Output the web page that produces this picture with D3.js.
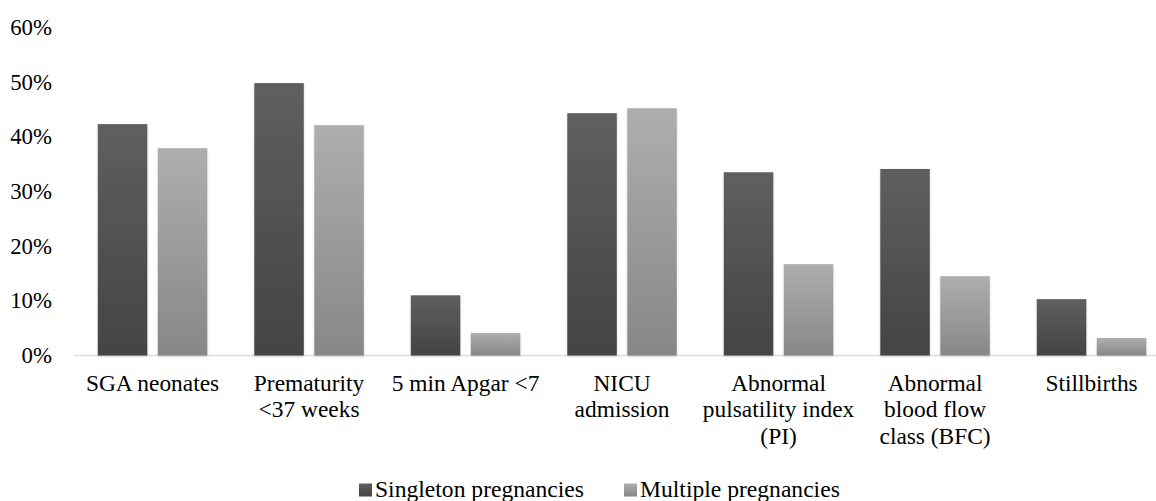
<!DOCTYPE html>
<html>
<head>
<meta charset="utf-8">
<script src="https://cdn.jsdelivr.net/npm/d3@7"></script>
</head>
<body style="margin:0">
<svg></svg>
<script>
const categories = [
  ["SGA neonates"],
  ["Prematurity", "<37 weeks"],
  ["5 min Apgar <7"],
  ["NICU", "admission"],
  ["Abnormal", "pulsatility index", "(PI)"],
  ["Abnormal", "blood flow", "class (BFC)"],
  ["Stillbirths"]
];
const singleton = [0.423, 0.498, 0.110, 0.443, 0.335, 0.341, 0.103];
const multiple = [0.379, 0.421, 0.041, 0.452, 0.167, 0.145, 0.032];
const seriesNames = ["Singleton pregnancies", "Multiple pregnancies"];
const yTicks = [0, 0.1, 0.2, 0.3, 0.4, 0.5, 0.6];

const width = 1156, height = 501;
const fontFam = "Liberation Serif";

const svg = d3.select("svg")
  .attr("width", width)
  .attr("height", height);

// gradients for the bars
const defs = svg.append("defs");
const grads = [["gSingle", "#5f5f5f", "#444444"], ["gMulti", "#aeaeae", "#878787"]];
grads.forEach(g => {
  const lg = defs.append("linearGradient")
    .attr("id", g[0]).attr("x1", 0).attr("y1", 0).attr("x2", 0).attr("y2", 1);
  lg.append("stop").attr("offset", "0%").attr("stop-color", g[1]);
  lg.append("stop").attr("offset", "100%").attr("stop-color", g[2]);
});
const shadow = defs.append("filter").attr("id", "shadow")
  .attr("x", "-10%").attr("y", "-5%").attr("width", "120%").attr("height", "110%");
shadow.append("feDropShadow").attr("dx", 0).attr("dy", 1).attr("stdDeviation", 1.2)
  .attr("flood-color", "#000").attr("flood-opacity", 0.18);

const x = d3.scaleBand()
  .domain(d3.range(categories.length))
  .range([74.3, 1169.8]);

const y = d3.scaleLinear()
  .domain([0, 0.6])
  .range([355.5, 27.3]);

const barW = 49.5, barGap = 10.5;

// y axis labels
svg.selectAll("text.ytick")
  .data(yTicks)
  .join("text")
    .attr("class", "ytick")
    .attr("x", 52)
    .attr("y", d => y(d) + 7.6)
    .attr("text-anchor", "end")
    .attr("font-family", fontFam)
    .attr("font-size", 22.8)
    .text(d => d3.format(".0%")(d));

// baseline
svg.append("line")
  .attr("x1", 74).attr("x2", width)
  .attr("y1", y(0)).attr("y2", y(0))
  .attr("stroke", "#d9dde3")
  .attr("stroke-width", 1.5);

const groups = svg.append("g")
  .selectAll("g")
  .data(categories.map((c, i) => ({i, vals: [singleton[i], multiple[i]]})))
  .join("g")
    .attr("transform", d => `translate(${x(d.i) + x.bandwidth() / 2},0)`);

groups.selectAll("rect")
  .data(d => d.vals)
  .join("rect")
    .attr("x", (d, j) => j === 0 ? -(barW + barGap / 2) : barGap / 2)
    .attr("y", d => y(d))
    .attr("width", barW)
    .attr("height", d => y(0) - y(d))
    .attr("fill", (d, j) => j === 0 ? "url(#gSingle)" : "url(#gMulti)")
    .attr("filter", "url(#shadow)");

// category labels, one text per line
groups.selectAll("text")
  .data(d => categories[d.i])
  .join("text")
    .attr("x", 0)
    .attr("y", (d, k) => 390.6 + k * 26.8)
    .attr("text-anchor", "middle")
    .attr("font-family", fontFam)
    .attr("font-size", 23.4)
    .text(d => d);

// legend
const legendX = [359, 624];
seriesNames.forEach((name, j) => {
  svg.append("rect")
    .attr("x", legendX[j]).attr("y", 483.5)
    .attr("width", 13).attr("height", 13)
    .attr("fill", j === 0 ? "url(#gSingle)" : "url(#gMulti)");
  svg.append("text")
    .attr("x", legendX[j] + 16).attr("y", 497)
    .attr("font-family", fontFam)
    .attr("font-size", 23.6)
    .text(name);
});
</script>
</body>
</html>
